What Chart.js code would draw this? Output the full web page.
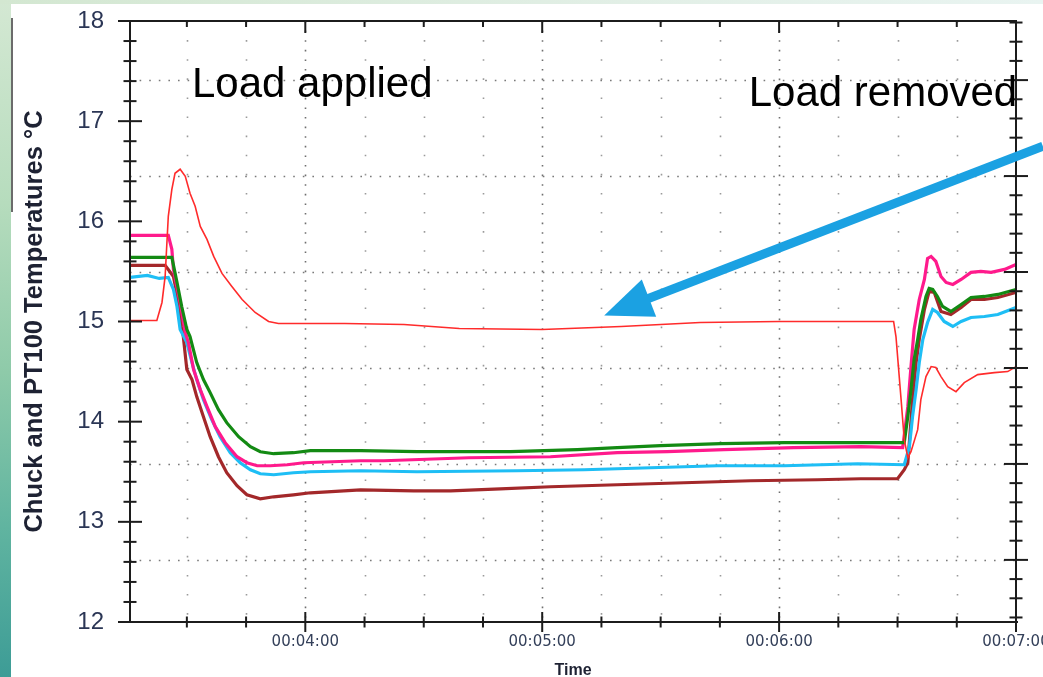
<!DOCTYPE html>
<html>
<head>
<meta charset="utf-8">
<script src="https://cdn.jsdelivr.net/npm/chart.js@4.4.1/dist/chart.umd.min.js"></script>
<style>
  html, body { margin: 0; padding: 0; }
  body { width: 1043px; height: 677px; overflow: hidden; position: relative; background: #fff; }
  .band-left { position: absolute; left: 0; top: 0; width: 11px; height: 677px;
    background: linear-gradient(to bottom, #d4e8d3 0%, #b6dcbd 30%, #8ecaa9 55%, #60b4a0 78%, #3d9c96 100%); }
  .band-top { position: absolute; left: 0; top: 0; width: 1043px; height: 4px;
    background: linear-gradient(to right, #d3e7d1, #e2efe6 60%, #e9f4f1); }
  .edge { position: absolute; left: 11px; top: 18px; width: 2px; height: 194px; background: #6b6b6b; }
  #chart { position: absolute; left: 0; top: 0; }
</style>
</head>
<body>
<div class="band-left"></div>
<div class="band-top"></div>
<div class="edge"></div>
<canvas id="chart" width="1043" height="677"></canvas>
<script>
// Temperaturas do chuck e do PT100 (tempo em segundos, 240 s = 00:04:00)
const redT = [195.6, 202.4, 203.7, 204.5, 205.3, 206.2, 207.0, 208.3, 209.6, 210.8, 212.1, 213.4, 215.1, 216.8, 218.9, 221.4, 224.0, 227.3, 230.7, 233.2, 250, 265, 279, 300, 320, 340, 360, 389.0, 389.6, 390.9, 391.7, 392.6, 393.4, 395.1, 395.9, 397.2, 398.5, 399.7, 401.0, 402.7, 404.8, 406.9, 410.3, 414.5, 417.9, 420];
const redV = [15.01, 15.01, 15.19, 15.45, 16.05, 16.32, 16.48, 16.52, 16.45, 16.28, 16.15, 15.95, 15.82, 15.65, 15.48, 15.35, 15.22, 15.09, 15.00, 14.98, 14.98, 14.97, 14.93, 14.92, 14.95, 14.99, 15.00, 15.00, 14.85, 14.22, 13.82, 13.64, 13.70, 13.92, 14.22, 14.45, 14.55, 14.54, 14.45, 14.35, 14.30, 14.39, 14.47, 14.49, 14.50, 14.55];

const pinkT = [195.6, 205.3, 206.2, 206.6, 208.3, 209.6, 210.4, 211.7, 213.4, 215.1, 217.2, 219.7, 222.7, 225.2, 227.8, 231.1, 235.4, 239.6, 254.0, 259.9, 281.4, 302.1, 319.0, 331.7, 346.0, 363.7, 380.7, 391.3, 392.6, 393.4, 394.2, 395.5, 396.8, 397.6, 398.5, 399.7, 401.0, 402.3, 404.0, 406.1, 408.6, 411.1, 413.7, 417.1, 420];
const pinkV = [15.86, 15.86, 15.72, 15.52, 15.19, 14.89, 14.79, 14.52, 14.32, 14.15, 13.95, 13.79, 13.65, 13.59, 13.56, 13.56, 13.57, 13.59, 13.61, 13.61, 13.64, 13.65, 13.69, 13.70, 13.72, 13.74, 13.75, 13.74, 14.15, 14.55, 14.92, 15.22, 15.42, 15.63, 15.65, 15.60, 15.45, 15.39, 15.37, 15.42, 15.49, 15.50, 15.49, 15.52, 15.57];

const greenT = [195.6, 206.2, 207.5, 208.7, 210.0, 210.8, 212.5, 214.2, 215.9, 218.0, 220.1, 223.1, 226.1, 228.6, 232.0, 237.0, 241.3, 254.0, 268.3, 292.0, 308.9, 319.0, 330.0, 345.2, 361.3, 380.7, 391.7, 392.6, 393.4, 394.2, 395.1, 395.9, 397.2, 398.0, 398.9, 400.1, 401.4, 403.5, 406.1, 408.6, 412.0, 415.4, 420];
const greenV = [15.64, 15.64, 15.39, 15.15, 14.92, 14.85, 14.59, 14.42, 14.29, 14.12, 13.99, 13.85, 13.75, 13.70, 13.68, 13.69, 13.71, 13.71, 13.70, 13.70, 13.72, 13.74, 13.76, 13.78, 13.79, 13.79, 13.79, 14.05, 14.32, 14.62, 14.82, 15.02, 15.25, 15.33, 15.32, 15.25, 15.15, 15.10, 15.17, 15.24, 15.25, 15.27, 15.32];

const brownT = [195.6, 204.5, 206.6, 207.9, 208.7, 209.1, 210.0, 211.3, 212.5, 214.2, 215.9, 218.0, 220.1, 222.7, 225.2, 228.6, 232.0, 237.0, 241.3, 254.0, 267.5, 276.8, 289.4, 302.1, 319.0, 335.9, 352.8, 369.7, 380.7, 390.0, 391.7, 392.6, 393.8, 394.7, 395.5, 396.8, 398.0, 399.3, 401.0, 403.5, 406.1, 408.6, 412.0, 415.4, 420];
const brownV = [15.56, 15.56, 15.45, 15.19, 14.95, 14.85, 14.52, 14.42, 14.25, 14.05, 13.85, 13.65, 13.49, 13.36, 13.27, 13.23, 13.25, 13.27, 13.29, 13.32, 13.31, 13.31, 13.33, 13.35, 13.37, 13.39, 13.41, 13.42, 13.43, 13.43, 13.52, 13.59, 14.22, 14.59, 14.82, 15.12, 15.30, 15.29, 15.10, 15.07, 15.14, 15.22, 15.22, 15.24, 15.29];

const cyanT = [195.6, 200.0, 203.0, 205.3, 206.6, 207.5, 208.3, 210.0, 211.3, 212.5, 214.2, 216.3, 218.4, 221.0, 223.5, 226.1, 228.6, 232.0, 237.0, 241.3, 254.0, 268.3, 293.7, 310.6, 327.5, 344.4, 361.3, 379.9, 391.7, 393.0, 393.8, 394.7, 395.5, 396.4, 397.6, 398.9, 400.1, 401.8, 404.0, 406.1, 408.6, 412.0, 415.4, 420];
const cyanV = [15.44, 15.46, 15.43, 15.44, 15.32, 15.15, 14.92, 14.79, 14.59, 14.42, 14.22, 14.02, 13.85, 13.69, 13.59, 13.52, 13.48, 13.47, 13.49, 13.50, 13.51, 13.50, 13.51, 13.52, 13.54, 13.56, 13.56, 13.58, 13.57, 13.75, 14.05, 14.32, 14.59, 14.82, 14.99, 15.12, 15.09, 15.00, 14.95, 15.00, 15.04, 15.05, 15.07, 15.14];

// eixos
const tempTicks = [12, 13, 14, 15, 16, 17, 18];
const timeTicks = [240, 300, 360, 420];
const rightTicks = [12.62, 13.58, 14.54, 15.49, 16.45, 17.41]; // eixo da direita (linhas pontilhadas)

const pts = (t, v) => t.map((x, i) => ({ x: x, y: v[i] }));
const fmt = s => '00:' + String(Math.floor(s / 60)).padStart(2, '0') + ':' + String(Math.round(s % 60)).padStart(2, '0');

function line(ctx, x1, y1, x2, y2) {
  ctx.beginPath(); ctx.moveTo(x1, y1); ctx.lineTo(x2, y2); ctx.stroke();
}

// Grade pontilhada, moldura, marcas e anotações
const frame = {
  id: 'frame',
  beforeDatasetsDraw(chart) {
    const { ctx, chartArea: a, scales: { x, y } } = chart;
    ctx.save();
    ctx.lineWidth = 1.6;
    ctx.strokeStyle = '#7a7a7a';
    ctx.setLineDash([1.6, 8]);
    rightTicks.forEach(v => {
      const py = Math.round(y.getPixelForValue(v)) + 0.5;
      line(ctx, a.left, py, a.right, py);
    });
    for (let t = 210; t < 420; t += 15) {
      const px = Math.round(x.getPixelForValue(t)) + 0.5;
      ctx.setLineDash(t % 60 === 0 ? [1.6, 8] : [1.6, 17.5]);
      ctx.strokeStyle = t % 60 === 0 ? '#6f6f6f' : '#9a9a9a';
      line(ctx, px, a.top, px, a.bottom);
    }
    ctx.restore();
  },
  afterDatasetsDraw(chart) {
    const { ctx, chartArea: a, scales: { x, y } } = chart;
    ctx.save();
    ctx.setLineDash([]);
    ctx.strokeStyle = '#1c1c1c';
    ctx.lineWidth = 2;
    // moldura
    line(ctx, a.left - 12, a.top, a.right, a.top);
    line(ctx, a.left - 12, a.bottom, a.right + 2, a.bottom);
    line(ctx, a.left, a.top, a.left, a.bottom);
    line(ctx, a.right, a.top - 1, a.right, a.bottom);
    // marcas do eixo esquerdo
    for (let i = 0; i <= 30; i++) {
      const py = y.getPixelForValue(12 + i * 0.2);
      const len = i % 5 === 0 ? 12 : 6.5;
      line(ctx, a.left - len, py, a.left + len, py);
    }
    // marcas do eixo direito
    const step = (rightTicks[rightTicks.length - 1] - rightTicks[0]) / ((rightTicks.length - 1) * 5);
    for (let k = -5; k <= 30; k++) {
      const v = rightTicks[0] + k * step;
      if (v < 12 || v > 18) continue;
      const py = y.getPixelForValue(v);
      const len = ((k % 5) + 5) % 5 === 0 ? 12 : 6.5;
      line(ctx, a.right - len, py, a.right + len, py);
    }
    // marcas de tempo (baixo e topo)
    for (let t = 210; t <= 420; t += 15) {
      const px = x.getPixelForValue(t);
      const major = t % 60 === 0;
      line(ctx, px, a.bottom - (major ? 10 : 5.5), px, a.bottom + (major ? 10 : 5.5));
      line(ctx, px, a.top, px, a.top + (major ? 12 : 6));
    }
    // textos
    ctx.fillStyle = '#000';
    ctx.font = '42px "Liberation Sans", Arial, sans-serif';
    ctx.textBaseline = 'alphabetic';
    ctx.textAlign = 'left';
    ctx.fillText('Load applied', x.getPixelForValue(211.3), y.getPixelForValue(17.24));
    ctx.fillText('Load removed', x.getPixelForValue(352.3), y.getPixelForValue(17.15));
    // seta
    const sx = x.getPixelForValue(426.8), sy = y.getPixelForValue(16.75);
    const tx = x.getPixelForValue(315.7), ty = y.getPixelForValue(15.06);
    const dx = tx - sx, dy = ty - sy, L = Math.hypot(dx, dy);
    const ux = dx / L, uy = dy / L, nx = -uy, ny = ux;
    const head = 48, half = 20;
    const bx = tx - ux * head, by = ty - uy * head;
    ctx.strokeStyle = '#1ba1e2';
    ctx.fillStyle = '#1ba1e2';
    ctx.lineWidth = 9;
    line(ctx, sx, sy, bx + ux * 2, by + uy * 2);
    ctx.beginPath();
    ctx.moveTo(tx, ty);
    ctx.lineTo(bx + nx * half, by + ny * half);
    ctx.lineTo(bx - nx * half, by - ny * half);
    ctx.closePath();
    ctx.fill();
    ctx.restore();
  }
};

const ctx = document.getElementById('chart').getContext('2d');

new Chart(ctx, {
  type: 'line',
  data: {
    datasets: [
      { label: 'PT100', data: pts(redT, redV), borderColor: '#ff2b2b', borderWidth: 1.6 },
      { label: 'Chuck 1', data: pts(greenT, greenV), borderColor: '#138a13', borderWidth: 3.2 },
      { label: 'Chuck 2', data: pts(pinkT, pinkV), borderColor: '#ff1a8c', borderWidth: 3.2 },
      { label: 'Chuck 3', data: pts(cyanT, cyanV), borderColor: '#1ebef5', borderWidth: 3.2 },
      { label: 'Chuck 4', data: pts(brownT, brownV), borderColor: '#a3282a', borderWidth: 3.2 }
    ]
  },
  options: {
    responsive: false,
    animation: false,
    devicePixelRatio: 1,
    elements: { point: { radius: 0 }, line: { tension: 0 } },
    layout: { padding: { left: 0, right: 27, top: 21, bottom: 0 } },
    plugins: { legend: { display: false }, tooltip: { enabled: false } },
    scales: {
      x: {
        type: 'linear', min: 195.6, max: 420,
        afterBuildTicks: s => { s.ticks = timeTicks.map(v => ({ value: v })); },
        afterFit: s => { s.height = 55; s.paddingLeft = 0; s.paddingRight = 0; },
        grid: { display: false, drawTicks: false },
        border: { display: false },
        ticks: {
          padding: 11, color: '#34405a', autoSkip: false, maxRotation: 0,
          font: { family: 'DejaVu Sans', size: 15 },
          callback: v => fmt(v)
        },
        title: {
          display: true, text: 'Time', color: '#1e2233', padding: 0,
          font: { family: 'Liberation Sans', size: 16, weight: 'bold', lineHeight: 0.75 }
        }
      },
      y: {
        min: 12, max: 18,
        afterBuildTicks: s => { s.ticks = tempTicks.map(v => ({ value: v })); },
        afterFit: s => { s.width = 130; s.paddingTop = 0; s.paddingBottom = 0; },
        grid: { display: false, drawTicks: false },
        border: { display: false },
        ticks: { padding: 26, color: '#2b3655', font: { family: 'Liberation Sans', size: 24 } },
        title: {
          display: true, text: 'Chuck and PT100 Temperatures °C', color: '#1e2233',
          padding: { top: 20, bottom: 0 },
          font: { family: 'Liberation Sans', size: 25.5, weight: 'bold' }
        }
      }
    }
  },
  plugins: [frame]
});
</script>
</body>
</html>
